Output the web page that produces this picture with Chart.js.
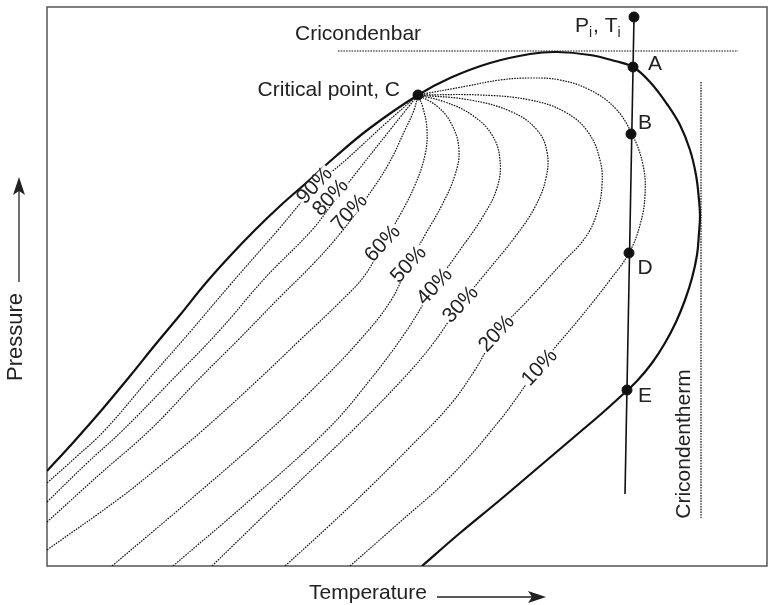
<!DOCTYPE html>
<html>
<head>
<meta charset="utf-8">
<script src="https://cdn.jsdelivr.net/npm/chart.js@4"></script>
<style>
  html, body { margin: 0; padding: 0; background: #fff; }
  canvas { display: block; }
</style>
</head>
<body>
<canvas id="chart" width="779" height="605"></canvas>
<script>
// values; axes have no ticks so units are just temperature/pressure steps
const bubbleCurve = [[0,95],[23,120],[53,154],[83,190],[108,221],[133,251],[158,282],[183,310],[208,336],[233,360],[258,382],[288,409],[323,438],[371,471]];
const dewCurve = [[371,471],[403,488],[443,503],[483,512],[510,514],[543,511],[568,505],[586,499],[603,484],[620,462],[633,441],[643,416],[649,391],[652,366],[653,350],[652,333],[650,311],[645,288],[638,266],[629,244],[618,223],[605,203],[590,185],[573,169],[553,151],[533,134],[493,100],[453,66],[413,33],[375,0]];

// quality lines (liquid %), all meeting at the critical point
const quality90 = [[0,83],[28,108],[58,136],[101,186],[143,234],[183,281],[231,336],[268,379],[301,408],[338,442],[371,471]];
const quality80 = [[0,64],[38,101],[76,136],[125,186],[173,236],[218,288],[265,336],[288,366],[313,398],[343,436],[371,471]];
const quality70 = [[0,44],[53,92],[103,136],[151,186],[193,228],[233,269],[268,304],[296,336],[318,366],[341,401],[358,436],[367,456],[371,471]];
const quality60 = [[0,16],[73,68],[113,100],[156,136],[211,186],[253,226],[293,264],[318,291],[335,321],[353,351],[368,381],[378,411],[380,436],[376,458],[371,471]];
const quality50 = [[65,0],[143,66],[223,136],[275,186],[313,226],[343,264],[361,300],[378,331],[395,361],[408,391],[412,416],[405,441],[391,459],[371,471]];
const quality40 = [[126,0],[203,66],[280,136],[323,186],[358,233],[387,279],[413,316],[435,348],[450,378],[453,406],[445,431],[425,451],[398,464],[371,471]];
const quality30 = [[165,0],[233,66],[306,136],[355,186],[385,221],[413,261],[443,298],[468,329],[488,359],[499,388],[500,414],[490,436],[465,454],[423,466],[371,471]];
const quality20 = [[238,0],[283,41],[323,79],[363,119],[403,161],[428,196],[449,231],[483,268],[516,304],[538,328],[550,353],[555,381],[553,406],[541,434],[518,454],[483,466],[433,471],[371,471]];
const quality10 = [[303,0],[353,44],[403,89],[453,146],[492,199],[533,248],[563,286],[582,313],[593,341],[598,371],[596,401],[585,432],[568,458],[543,476],[513,486],[483,488],[453,486],[420,480],[371,471]];
const qualityNames = ['90%', '80%', '70%', '60%', '50%', '40%', '30%', '20%', '10%'];
const qualityLabelAt = [[267,381],[283,369],[302,354],[335,323],[361,302],[387,280],[413,262],[449,233],[492,199]];

// isothermal path from initial conditions
const criticalPoint = [371,471];
const pathLine = [[587,549],[578,72]];
const pathPoints = [[587,549],[586,499],[584,432],[582,313],[580,176]];
const pathNames = ['A', 'B', 'D', 'E'];
const pathLabelAt = [[608,503],[598,444],[598,299],[598,171]];
const cricondenbar = [[291,515],[691,515]];
const cricondentherm = [[654,484],[654,48]];

const xy = arr => arr.map(p => ({ x: p[0], y: p[1] }));
const qualityLines = [quality90, quality80, quality70, quality60, quality50, quality40, quality30, quality20, quality10];

const dotted = (data) => ({
  data: xy(data), showLine: true, pointRadius: 0, borderColor: '#111',
  borderWidth: 1.2, borderDash: [1.6, 1.1], tension: 0.4
});

const datasets = [];
qualityLines.forEach(q => datasets.push(dotted(q)));
datasets.push(Object.assign(dotted(cricondenbar), { tension: 0 }));
datasets.push(Object.assign(dotted(cricondentherm), { tension: 0 }));
datasets.push({
  data: xy(bubbleCurve.concat(dewCurve.slice(1))), showLine: true, pointRadius: 0,
  borderColor: '#111', borderWidth: 2.2, tension: 0.4
});
datasets.push({
  data: xy(pathLine), showLine: true, pointRadius: 0, borderColor: '#111', borderWidth: 1.6
});
datasets.push({
  data: xy(pathPoints.concat([criticalPoint])), showLine: false, pointRadius: 5,
  pointBackgroundColor: '#111', pointBorderColor: '#111'
});

function arrow(ctx, x1, y1, x2, y2) {
  const ang = Math.atan2(y2 - y1, x2 - x1);
  ctx.beginPath();
  ctx.moveTo(x1, y1);
  ctx.lineTo(x2 - 10 * Math.cos(ang), y2 - 10 * Math.sin(ang));
  ctx.stroke();
  ctx.save();
  ctx.translate(x2, y2);
  ctx.rotate(ang);
  ctx.beginPath();
  ctx.moveTo(0, 0);
  ctx.lineTo(-18, -6);
  ctx.lineTo(-14, 0);
  ctx.lineTo(-18, 6);
  ctx.closePath();
  ctx.fill();
  ctx.restore();
}

const textPlugin = {
  id: 'texts',
  beforeDatasetsDraw(chart) {
    const { ctx, chartArea: a } = chart;
    ctx.save();
    ctx.strokeStyle = '#555';
    ctx.lineWidth = 1.5;
    ctx.strokeRect(a.left, a.top, a.right - a.left, a.bottom - a.top);
    ctx.restore();
  },
  afterDatasetsDraw(chart) {
    const { ctx, scales: { x, y } } = chart;
    const px = v => x.getPixelForValue(v);
    const py = v => y.getPixelForValue(v);
    const font = '21px "Liberation Sans", Arial, sans-serif';
    ctx.save();
    ctx.font = font;
    ctx.fillStyle = '#222';
    ctx.strokeStyle = '#222';
    ctx.textBaseline = 'middle';

    // percent labels sit on the dotted lines
    qualityNames.forEach((t, i) => {
      ctx.save();
      ctx.translate(px(qualityLabelAt[i][0]), py(qualityLabelAt[i][1]));
      ctx.rotate(-47 * Math.PI / 180);
      const w = ctx.measureText(t).width;
      ctx.fillStyle = '#fff';
      ctx.fillRect(-w / 2 - 1, -6, w + 2, 12);
      ctx.fillStyle = '#222';
      ctx.textAlign = 'center';
      ctx.fillText(t, 0, 1);
      ctx.restore();
    });

    ctx.textAlign = 'left';
    ctx.fillText('Cricondenbar', px(248), py(532));
    ctx.textAlign = 'right';
    ctx.fillText('Critical point, C', px(353), py(476));
    ctx.textAlign = 'center';
    pathNames.forEach((t, i) => ctx.fillText(t, px(pathLabelAt[i][0]), py(pathLabelAt[i][1]) + 1));

    // P_i, T_i
    let cx = px(528), base = py(534);
    ctx.textAlign = 'left';
    ctx.textBaseline = 'alphabetic';
    const sub = '14px "Liberation Sans", Arial, sans-serif';
    [['P', font, 0], ['i', sub, 5], [', T', font, 0], ['i', sub, 5]].forEach(s => {
      ctx.font = s[1];
      ctx.fillText(s[0], cx, base + s[2]);
      cx += ctx.measureText(s[0]).width + (s[1] === sub ? 1 : 0);
    });
    ctx.font = font;

    // vertical label beside the cricondentherm
    ctx.save();
    ctx.translate(px(637), py(122));
    ctx.rotate(-Math.PI / 2);
    ctx.textAlign = 'center';
    ctx.textBaseline = 'middle';
    ctx.fillText('Cricondentherm', 0, 0);
    ctx.restore();

    // axis titles with arrows
    ctx.textAlign = 'center';
    ctx.textBaseline = 'middle';
    ctx.fillText('Temperature', 368, 593);
    ctx.lineWidth = 1.3;
    arrow(ctx, 437, 597, 546, 597);
    ctx.save();
    ctx.translate(16, 337);
    ctx.rotate(-Math.PI / 2);
    ctx.font = '22px "Liberation Sans", Arial, sans-serif';
    ctx.fillText('Pressure', 0, 0);
    ctx.restore();
    arrow(ctx, 19, 282, 19, 177);
    ctx.restore();
  }
};

new Chart(document.getElementById('chart'), {
  type: 'scatter',
  data: { datasets: datasets },
  options: {
    responsive: false,
    animation: false,
    devicePixelRatio: 1,
    layout: { padding: { left: 47, right: 12, top: 7, bottom: 39 } },
    plugins: { legend: { display: false }, tooltip: { enabled: false } },
    scales: {
      x: { type: 'linear', min: 0, max: 720, display: false },
      y: { type: 'linear', min: 0, max: 559, display: false }
    }
  },
  plugins: [textPlugin]
});
</script>
</body>
</html>
